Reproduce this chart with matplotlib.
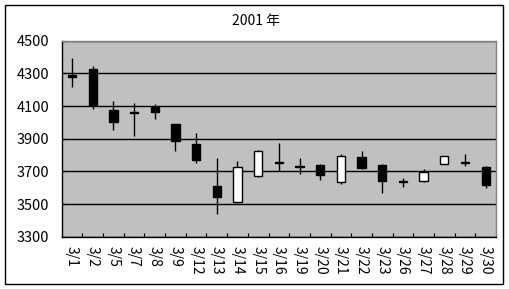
import matplotlib
matplotlib.use("Agg")
import matplotlib.pyplot as plt
from matplotlib.patches import Rectangle
import numpy as np

plt.rcParams['font.family'] = ['Noto Sans CJK JP', 'DejaVu Sans']

# 2001年3月 日足 (始値, 高値, 安値, 終値)
dates = ["3/1", "3/2", "3/5", "3/7", "3/8", "3/9", "3/12", "3/13", "3/14", "3/15", "3/16",
         "3/19", "3/20", "3/21", "3/22", "3/23", "3/26", "3/27", "3/28", "3/29", "3/30"]
opens = [4290, 4326, 4075, 4065, 4092, 3990, 3867, 3610, 3513, 3673, 3758,
         3734, 3739, 3637, 3788, 3741, 3640, 3643, 3743, 3756, 3724]
highs = [4394, 4345, 4130, 4118, 4112, 3990, 3932, 3782, 3763, 3829, 3873,
         3782, 3745, 3806, 3824, 3745, 3661, 3713, 3792, 3806, 3733]
lows = [4218, 4083, 3955, 3916, 4022, 3826, 3753, 3441, 3508, 3667, 3702,
        3686, 3647, 3625, 3716, 3569, 3606, 3635, 3743, 3733, 3596]
closes = [4280, 4104, 4005, 4055, 4065, 3888, 3769, 3545, 3725, 3823, 3752,
          3728, 3680, 3794, 3722, 3643, 3634, 3696, 3792, 3750, 3614]

fig = plt.figure(figsize=(5.1, 2.89), dpi=100)
fig.patch.set_facecolor("white")

# 外枠
fig.patches.append(Rectangle((5 / 510, 1 - 284 / 289), 498 / 510, 279 / 289,
                             transform=fig.transFigure, fill=False,
                             edgecolor="black", linewidth=1.0))

ax = fig.add_axes([61.7 / 510, 1 - 236.7 / 289, (496 - 61.7) / 510, (236.7 - 40.7) / 289])
ax.set_facecolor("#C0C0C0")

x = np.arange(len(dates))
o = np.array(opens)
c = np.array(closes)

# ひげ
ax.vlines(x, lows, highs, color="black", linewidth=1.0, zorder=3)

# 実体
up = c >= o
bottoms = np.minimum(o, c)
heights = np.abs(c - o)
ax.bar(x[up], heights[up], bottom=bottoms[up], width=0.4,
       facecolor="white", edgecolor="black", linewidth=1.0, zorder=4)
ax.bar(x[~up], heights[~up], bottom=bottoms[~up], width=0.4,
       facecolor="black", edgecolor="black", linewidth=1.0, zorder=4)

ax.set_xlim(-0.5, len(dates) - 0.5)
ax.set_ylim(3300, 4500)
ax.set_yticks(range(3300, 4501, 200))
ax.yaxis.grid(True, color="black", linewidth=1.0)
ax.set_axisbelow(True)

ax.set_xticks(x)
ax.set_xticklabels(dates, rotation=-90, va="top", ha="center")
ax.set_xticks(np.arange(-0.5, len(dates), 1), minor=True)
ax.tick_params(axis="x", which="major", length=0, pad=7, labelsize=10)
ax.tick_params(axis="x", which="minor", direction="in", length=3, width=0.8)
ax.tick_params(axis="y", direction="in", length=3, width=0.8, pad=9, labelsize=10.5)

for s in ["top", "right"]:
    ax.spines[s].set_color("#808080")
    ax.spines[s].set_linewidth(1.0)
for s in ["left", "bottom"]:
    ax.spines[s].set_color("black")
    ax.spines[s].set_linewidth(1.0)

fig.text(256 / 510, 1 - 21 / 289, "2001 年", ha="center", va="center", fontsize=10)

fig.savefig("out.png", dpi=100)
